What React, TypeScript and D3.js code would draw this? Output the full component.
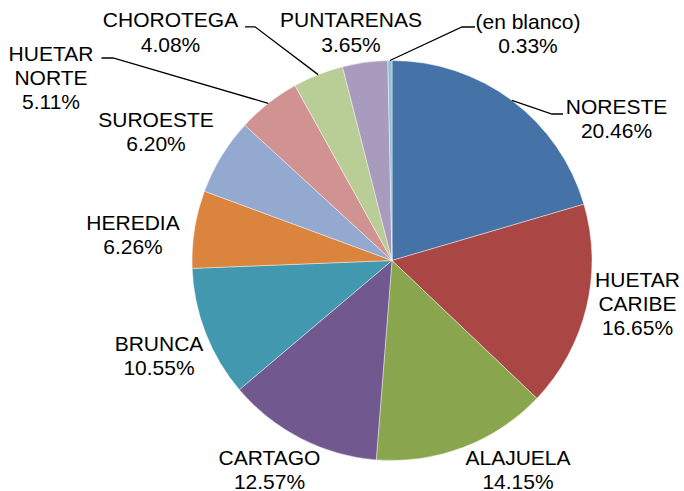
import React from "react";
import * as d3 from "d3";

const categories = ["NORESTE", "HUETAR CARIBE", "ALAJUELA", "CARTAGO", "BRUNCA", "HEREDIA", "SUROESTE", "HUETAR NORTE", "CHOROTEGA", "PUNTARENAS", "(en blanco)"];
const values = [20.46, 16.65, 14.15, 12.57, 10.55, 6.26, 6.20, 5.11, 4.08, 3.65, 0.33];
const colors = ["#4572A7", "#AA4643", "#89A54E", "#71588F", "#4198AF", "#DB843D", "#93A9CF", "#D19392", "#B9CD96", "#A99BBD", "#92C3D4"];
const labelLines = [
  ["NORESTE"],
  ["HUETAR", "CARIBE"],
  ["ALAJUELA"],
  ["CARTAGO"],
  ["BRUNCA"],
  ["HEREDIA"],
  ["SUROESTE"],
  ["HUETAR", "NORTE"],
  ["CHOROTEGA"],
  ["PUNTARENAS"],
  ["(en blanco)"],
];
// label anchor: center x, first baseline y
const labelPos: [number, number][] = [
  [616.5, 114], [637.5, 286.5], [518, 465], [269.5, 465], [159, 350.5],
  [133, 230], [156, 126.5], [51, 60.5], [170.5, 27.3], [351, 27.3], [528, 28.5],
];
// leader lines: [elbowX, elbowY, endX] or null
const leaders: ([number, number, number] | null)[] = [
  [552, 114, 563], null, null, null, null, null, null,
  [113, 58, 101.5], [255, 26.8, 245], null, [462, 27, 475],
];

const W = 684, H = 491;
const cx = 392, cy = 260.5, R = 200;
const lineH = 24.3;

export default function App() {
  const pie = d3.pie<number>().sort(null).value((d) => d).startAngle(0).endAngle(2 * Math.PI);
  const arcs = pie(values);
  const arc = d3.arc<d3.PieArcDatum<number>>().innerRadius(0).outerRadius(R);
  const edge = d3.arc<d3.PieArcDatum<number>>().innerRadius(R).outerRadius(R);

  return (
    <svg width={W} height={H} style={{ position: "absolute", left: 0, top: 0, background: "#fff" }}
      fontFamily="'Liberation Sans', Arial, sans-serif">
      <g transform={`translate(${cx},${cy})`}>
        {arcs.map((a, i) => (
          <path key={i} d={arc(a) || ""} fill={colors[i]} stroke="#ffffff" strokeWidth={0.6} strokeOpacity={0.7} />
        ))}
      </g>
      {arcs.map((a, i) => {
        const L = leaders[i];
        if (!L) return null;
        const [px, py] = edge.centroid(a);
        return (
          <polyline key={"l" + i}
            points={`${cx + px},${cy + py} ${L[0]},${L[1]} ${L[2]},${L[1]}`}
            fill="none" stroke="#000" strokeWidth={1.3} />
        );
      })}
      {categories.map((c, i) => {
        const [x, y] = labelPos[i];
        const lines = [...labelLines[i], values[i].toFixed(2) + "%"];
        return (
          <text key={"t" + i} x={x} y={y} textAnchor="middle" fontSize={21} fill="#000">
            {lines.map((t, j) => (
              <tspan key={j} x={x} y={y + j * lineH}>{t}</tspan>
            ))}
          </text>
        );
      })}
    </svg>
  );
}
